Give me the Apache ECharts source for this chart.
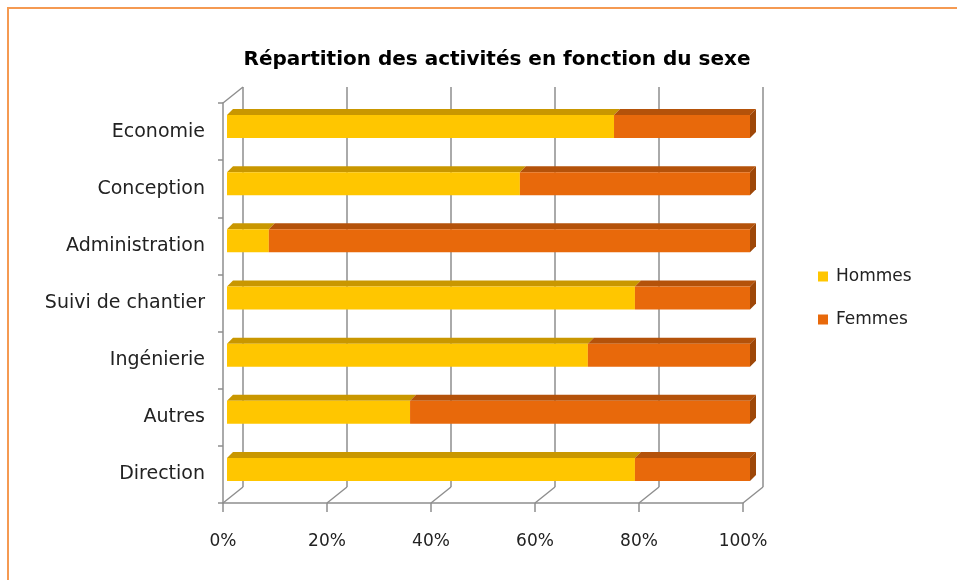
<!DOCTYPE html>
<html>
<head>
<meta charset="utf-8">
<script src="https://cdn.jsdelivr.net/npm/echarts@6/dist/echarts.min.js"></script>
<style>
  html, body { margin: 0; padding: 0; background: #fff; }
  #chart { width: 957px; height: 580px; }
</style>
</head>
<body>
<div id="chart"></div>
<script>
// categories top -> bottom
const categories = ['Economie', 'Conception', 'Administration', 'Suivi de chantier', 'Ingénierie', 'Autres', 'Direction'];
// share in %
const hommes = [74, 56, 8, 78, 69, 35, 78];
const femmes = [26, 44, 92, 22, 31, 65, 22];
const xTicks = [0, 20, 40, 60, 80, 100];

const colors = {
    Hommes: { front: '#FFC600', top: '#C99700', side: '#B88A00' },
    Femmes: { front: '#E8690B', top: '#B4520A', side: '#9E4708' }
};
const DEPTH_X = 20, DEPTH_Y = 16;   // wall depth
const BAR_DX = 6, BAR_DY = 6;       // bar thickness in 3d
const BAR_H = 23;
const gridColor = '#8e8e8e';
const font = 'DejaVu Sans';

const chart = echarts.init(document.getElementById('chart'));

// stacked segments [cat, start, end]
const segH = hommes.map((v, i) => [i, 0, v]);
const segF = femmes.map((v, i) => [i, hommes[i], hommes[i] + v]);

function barItem(name) {
    return function (params, api) {
        const cat = api.value(0);
        const s = api.value(1), e = api.value(2);
        const p0 = api.coord([s, cat]);
        const p1 = api.coord([e, cat]);
        const c = colors[name];
        const x0 = p0[0], x1 = p1[0];
        const y = p0[1] - BAR_H / 2;
        const children = [
            {
                type: 'polygon',
                shape: { points: [[x0, y], [x0 + BAR_DX, y - BAR_DY], [x1 + BAR_DX, y - BAR_DY], [x1, y]] },
                style: { fill: c.top }
            },
            {
                type: 'rect',
                shape: { x: x0, y: y, width: x1 - x0, height: BAR_H },
                style: { fill: c.front }
            }
        ];
        if (e >= 100) {
            children.push({
                type: 'polygon',
                shape: { points: [[x1, y], [x1 + BAR_DX, y - BAR_DY], [x1 + BAR_DX, y + BAR_H - BAR_DY], [x1, y + BAR_H]] },
                style: { fill: c.side }
            });
        }
        return { type: 'group', children: children };
    };
}

// floor diagonals + left wall top edge
function wallItem(params, api) {
    const cs = params.coordSys;
    const x = api.coord([api.value(0), 0])[0];
    const yb = cs.y + cs.height;
    const children = [{
        type: 'line',
        shape: { x1: x, y1: yb, x2: x + DEPTH_X, y2: yb - DEPTH_Y },
        style: { stroke: gridColor, lineWidth: 1.5 }
    }];
    if (params.dataIndex === 0) {
        children.push({
            type: 'line',
            shape: { x1: cs.x, y1: cs.y, x2: cs.x + DEPTH_X, y2: cs.y - DEPTH_Y },
            style: { stroke: gridColor, lineWidth: 1.5 }
        });
    }
    return { type: 'group', children: children };
}

const option = {
    animation: false,
    backgroundColor: '#fff',
    title: {
        text: 'Répartition des activités en fonction du sexe',
        left: 492,
        textAlign: 'center',
        top: 45,
        textStyle: { fontFamily: 'DejaVu Sans', fontWeight: 'bold', fontSize: 20, color: '#000' }
    },
    legend: {
        orient: 'vertical',
        left: 818,
        top: 268,
        padding: 0,
        itemWidth: 10,
        itemHeight: 10,
        itemGap: 26,
        icon: 'rect',
        textStyle: { fontFamily: font, fontSize: 17, color: '#222', padding: [0, 0, 0, 3] },
        data: [
            { name: 'Hommes', itemStyle: { color: colors.Hommes.front } },
            { name: 'Femmes', itemStyle: { color: colors.Femmes.front } }
        ]
    },
    graphic: [{
        type: 'polyline',
        shape: { points: [[8, 580], [8, 8], [957, 8]] },
        style: { stroke: '#F59A52', lineWidth: 2, fill: null }
    }],
    grid: [
        // back wall
        { left: 243, right: 194, top: 87, bottom: 93 },
        // front axes
        { left: 223, right: 214, top: 103, bottom: 77 },
        // bars
        { left: 227, right: 207, top: 98, bottom: 82 }
    ],
    xAxis: [
        {
            gridIndex: 0, type: 'value', min: 0, max: 100, interval: 20,
            axisLine: { show: false }, axisTick: { show: false }, axisLabel: { show: false },
            splitLine: { show: true, lineStyle: { color: gridColor, width: 1.5 } }
        },
        {
            gridIndex: 1, type: 'value', min: 0, max: 100, interval: 20,
            axisLine: { show: true, lineStyle: { color: gridColor, width: 1.5 } },
            axisTick: { show: true, length: 9, lineStyle: { color: gridColor, width: 1.5 } },
            splitLine: { show: false },
            axisLabel: {
                margin: 30,
                fontFamily: font, fontSize: 17, color: '#222',
                formatter: v => v + '%'
            }
        },
        {
            gridIndex: 2, type: 'value', min: 0, max: 100, show: false
        }
    ],
    yAxis: [
        { gridIndex: 0, type: 'value', show: false },
        {
            gridIndex: 1, type: 'category', data: categories, inverse: true,
            axisLine: { show: true, lineStyle: { color: gridColor, width: 1.5 } },
            axisTick: { show: true, length: 5, lineStyle: { color: gridColor, width: 1.5 } },
            axisLabel: { margin: 18, fontFamily: font, fontSize: 19, color: '#222' }
        },
        { gridIndex: 2, type: 'category', data: categories, inverse: true, show: false }
    ],
    series: [
        {
            name: 'walls',
            type: 'custom',
            xAxisIndex: 1, yAxisIndex: 1,
            renderItem: wallItem,
            data: xTicks.map(v => [v, 0]),
            encode: { x: 0 },
            silent: true,
            z: 1
        },
        {
            name: 'Hommes',
            type: 'custom',
            xAxisIndex: 2, yAxisIndex: 2,
            itemStyle: { color: colors.Hommes.front },
            renderItem: barItem('Hommes'),
            data: segH,
            encode: { x: [1, 2], y: 0 },
            z: 3
        },
        {
            name: 'Femmes',
            type: 'custom',
            xAxisIndex: 2, yAxisIndex: 2,
            itemStyle: { color: colors.Femmes.front },
            renderItem: barItem('Femmes'),
            data: segF,
            encode: { x: [1, 2], y: 0 },
            z: 3
        }
    ]
};

chart.setOption(option);
</script>
</body>
</html>
